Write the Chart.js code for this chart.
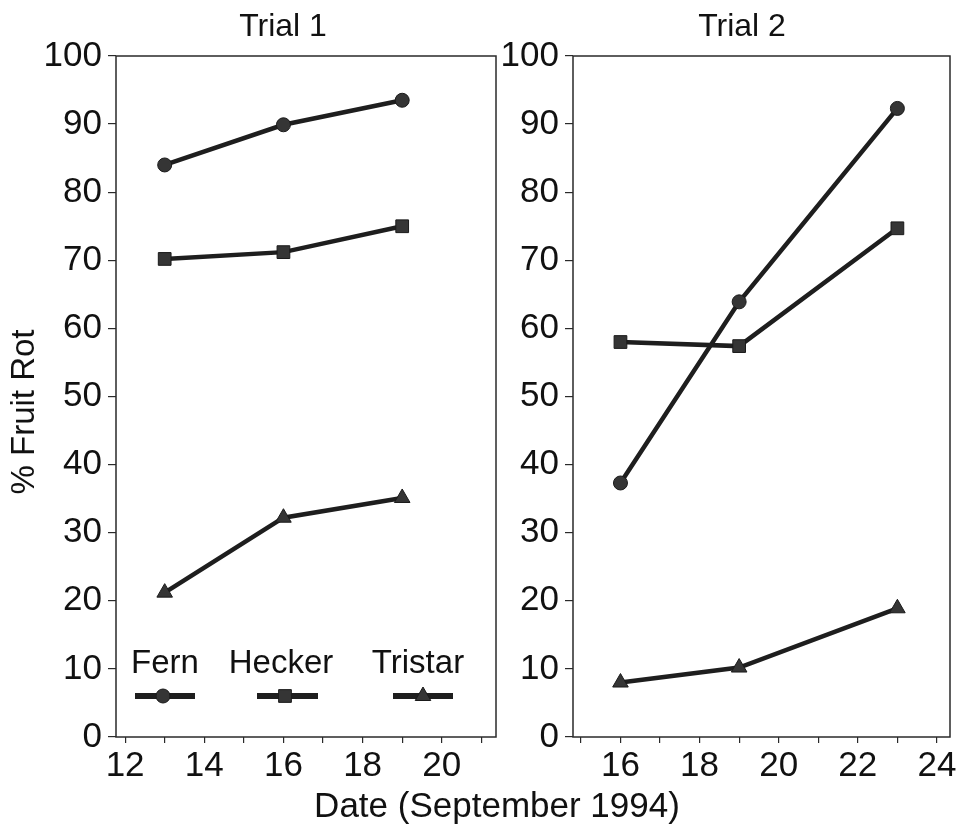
<!DOCTYPE html>
<html>
<head>
<meta charset="utf-8">
<script src="https://cdn.jsdelivr.net/npm/chart.js@4/dist/chart.umd.min.js"></script>
<style>
  html, body { margin: 0; padding: 0; background: #ffffff; }
  #wrap { position: relative; width: 960px; height: 826px; }
  canvas { position: absolute; left: 0; top: 0; }
</style>
</head>
<body>
<div id="wrap">
  <canvas id="c1" width="960" height="826"></canvas>
  <canvas id="c2" width="960" height="826"></canvas>
</div>
<script>
// ---- data ----
const seriesNames = ["Fern", "Hecker", "Tristar"];
const trial1Dates = [13, 16, 19];
const trial1Fern = [84.0, 89.9, 93.5];
const trial1Hecker = [70.2, 71.2, 75.0];
const trial1Tristar = [21.2, 32.2, 35.1];
const trial2Dates = [16, 19, 23];
const trial2Fern = [37.3, 63.9, 92.3];
const trial2Hecker = [58.0, 57.4, 74.7];
const trial2Tristar = [8.0, 10.2, 18.9];
const yTickValues = [0, 10, 20, 30, 40, 50, 60, 70, 80, 90, 100];
const trial1XLabels = [12, 14, 16, 18, 20];
const trial2XLabels = [16, 18, 20, 22, 24];
const panelTitles = ["Trial 1", "Trial 2"];
const xTitle = "Date (September 1994)";
const yTitle = "% Fruit Rot";

const FONT = '"Liberation Sans", Arial, Helvetica, sans-serif';
const INK = '#111111';
const LINE = '#1e1e1e';
const pointStyles = ['circle', 'rect', 'triangle'];
const pointRadii = [7, 9, 9];

function pts(xs, ys) { return xs.map((x, i) => ({ x: x, y: ys[i] })); }

function makeDatasets(xs, series) {
  return series.map((ys, i) => ({
    label: seriesNames[i],
    data: pts(xs, ys),
    showLine: true,
    borderColor: LINE,
    backgroundColor: '#333333',
    borderWidth: 4.5,
    pointStyle: pointStyles[i],
    pointRadius: pointRadii[i],
    pointBorderWidth: 1,
    pointBorderColor: '#1a1a1a',
    pointBackgroundColor: '#353535',
    tension: 0
  }));
}

const framePlugin = {
  id: 'frame',
  afterDraw(chart) {
    const a = chart.chartArea, ctx = chart.ctx;
    ctx.save();
    ctx.strokeStyle = '#2a2a2a';
    ctx.lineWidth = 1.5;
    ctx.strokeRect(a.left, a.top, a.right - a.left, a.bottom - a.top);
    ctx.restore();
  }
};

function textPlugin(id, drawFn) {
  return { id: id, afterDraw(chart) { const ctx = chart.ctx; ctx.save(); drawFn(chart, ctx); ctx.restore(); } };
}

function makeOptions(cfg) {
  return {
    responsive: false,
    animation: false,
    events: [],
    layout: { padding: cfg.padding },
    plugins: { legend: { display: false }, tooltip: { enabled: false }, title: { display: false } },
    scales: {
      x: {
        type: 'linear',
        min: cfg.xMin, max: cfg.xMax,
        afterFit(s) { s.height = cfg.xAxisHeight; },
        border: { display: false },
        grid: { display: true, drawOnChartArea: false, drawTicks: true, tickLength: 6, color: '#2a2a2a', lineWidth: 1.2 },
        ticks: {
          stepSize: 1, includeBounds: false, autoSkip: false, maxRotation: 0,
          padding: 2,
          color: INK,
          font: { family: FONT, size: 35 },
          callback: (v) => cfg.xLabels.includes(v) ? String(v) : ''
        }
      },
      y: {
        type: 'linear',
        min: 0, max: 100,
        afterFit(s) { s.width = cfg.yAxisWidth; },
        afterBuildTicks(s) { s.ticks = yTickValues.map(v => ({ value: v })); },
        border: { display: false },
        grid: { display: true, drawOnChartArea: false, drawTicks: true, tickLength: 8, color: '#2a2a2a', lineWidth: 1.2 },
        ticks: {
          padding: 6,
          color: INK,
          font: { family: FONT, size: 35 },
          callback: (v) => String(v)
        }
      }
    }
  };
}

function drawLegend(chart, ctx) {
  const items = [
    { tx: 165, lx0: 135, lx1: 195, mx: 163 },
    { tx: 281, lx0: 257, lx1: 318, mx: 285 },
    { tx: 418, lx0: 393, lx1: 453, mx: 423 }
  ];
  ctx.font = '33px ' + FONT;
  ctx.textAlign = 'center';
  ctx.textBaseline = 'middle';
  items.forEach((it, i) => {
    ctx.fillStyle = INK;
    ctx.fillText(seriesNames[i], it.tx, 664);
    ctx.strokeStyle = LINE;
    ctx.lineWidth = 6;
    ctx.beginPath();
    ctx.moveTo(it.lx0, 696);
    ctx.lineTo(it.lx1, 696);
    ctx.stroke();
    ctx.fillStyle = '#353535';
    ctx.strokeStyle = '#1a1a1a';
    ctx.lineWidth = 1;
    Chart.helpers.drawPoint(ctx, { pointStyle: pointStyles[i], radius: pointRadii[i], rotation: 0, borderWidth: 1 }, it.mx, 696);
  });
}

// Left panel (Trial 1)
new Chart(document.getElementById('c1'), {
  type: 'scatter',
  data: { datasets: makeDatasets(trial1Dates, [trial1Fern, trial1Hecker, trial1Tristar]) },
  options: makeOptions({
    padding: { left: 0, top: 56, right: 464, bottom: 0 },
    xMin: 11.77, xMax: 21.37, xLabels: trial1XLabels,
    xAxisHeight: 89, yAxisWidth: 116
  }),
  plugins: [framePlugin,
    textPlugin('t1', (chart, ctx) => {
      ctx.font = '32px ' + FONT;
      ctx.fillStyle = INK;
      ctx.textAlign = 'center';
      ctx.textBaseline = 'middle';
      ctx.fillText(panelTitles[0], 283, 27);
      ctx.font = '33px ' + FONT;
      ctx.translate(25, 412);
      ctx.rotate(-Math.PI / 2);
      ctx.fillText(yTitle, 0, 0);
    }),
    textPlugin('legend1', drawLegend)
  ]
});

// Right panel (Trial 2)
new Chart(document.getElementById('c2'), {
  type: 'scatter',
  data: { datasets: makeDatasets(trial2Dates, [trial2Fern, trial2Hecker, trial2Tristar]) },
  options: makeOptions({
    padding: { left: 433, top: 56, right: 10, bottom: 0 },
    xMin: 14.8, xMax: 24.33, xLabels: trial2XLabels,
    xAxisHeight: 89, yAxisWidth: 140
  }),
  plugins: [framePlugin,
    textPlugin('t2', (chart, ctx) => {
      ctx.font = '32px ' + FONT;
      ctx.fillStyle = INK;
      ctx.textAlign = 'center';
      ctx.textBaseline = 'middle';
      ctx.fillText(panelTitles[1], 742, 27);
      ctx.font = '35px ' + FONT;
      ctx.fillText(xTitle, 497, 807);
    })
  ]
});
</script>
</body>
</html>
